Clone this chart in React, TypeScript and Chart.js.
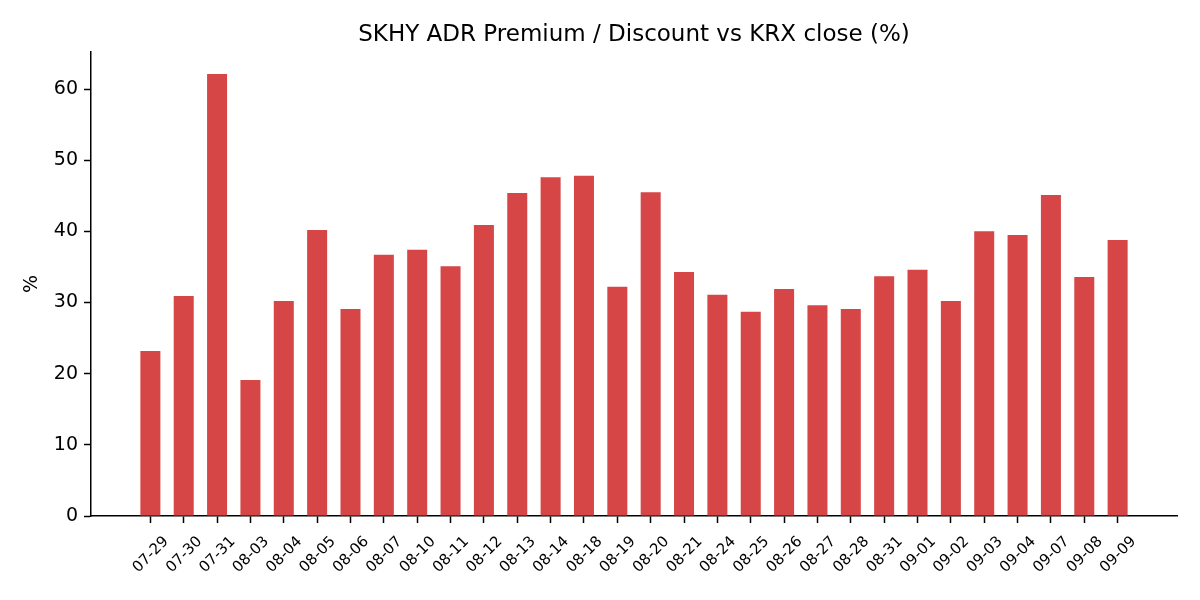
import { Chart, registerables } from 'chart.js';
import { useEffect, useRef } from 'react';

Chart.register(...registerables);

const dates = [
  '07-29', '07-30', '07-31', '08-03', '08-04', '08-05', '08-06', '08-07', '08-10', '08-11',
  '08-12', '08-13', '08-14', '08-18', '08-19', '08-20', '08-21', '08-24', '08-25', '08-26',
  '08-27', '08-28', '08-31', '09-01', '09-02', '09-03', '09-04', '09-07', '09-08', '09-09',
];
const premium = [
  23.2, 30.9, 62.1, 19.1, 30.2, 40.2, 29.1, 36.7, 37.4, 35.1,
  40.9, 45.4, 47.6, 47.8, 32.2, 45.5, 34.3, 31.1, 28.7, 31.9,
  29.6, 29.1, 33.7, 34.6, 30.2, 40.0, 39.5, 45.1, 33.6, 38.8,
];
const yTicks = [0, 10, 20, 30, 40, 50, 60];
const titleText = 'SKHY ADR Premium / Discount vs KRX close (%)';

const FONT = "'DejaVu Sans', sans-serif";
const BAR = '#d64646';

// title centred over the plot area, like matplotlib's ax.set_title
const axesTitle = {
  id: 'axesTitle',
  afterDraw: (chart: any) => {
    const { ctx, chartArea } = chart;
    ctx.save();
    ctx.font = `23px ${FONT}`;
    ctx.fillStyle = '#000';
    ctx.textAlign = 'center';
    ctx.textBaseline = 'alphabetic';
    ctx.fillText(titleText, (chartArea.left + chartArea.right) / 2, chartArea.top - 11.5);
    ctx.restore();
  },
};

const App = () => {
  const ref = useRef<HTMLCanvasElement>(null);

  useEffect(() => {
    if (ref.current == null) return () => {};
    Chart.defaults.color = '#000';
    Chart.defaults.font.family = FONT;

    const chart = new Chart(ref.current, {
      type: 'bar',
      data: {
        datasets: [
          {
            label: 'premium',
            data: premium.map((v, i) => ({ x: i, y: v })),
            backgroundColor: BAR,
            barPercentage: 0.6,
            categoryPercentage: 1,
          },
        ],
      },
      plugins: [axesTitle],
      options: {
        animation: false,
        responsive: true,
        maintainAspectRatio: false,
        layout: { padding: { left: 0, right: 23, top: 52, bottom: 0 } },
        plugins: {
          legend: { display: false },
          tooltip: { enabled: false },
          title: { display: false },
        },
        scales: {
          x: {
            type: 'linear',
            min: -1.78,
            max: dates.length - 1 + 1.78,
            offset: false,
            grid: {
              offset: false,
              drawOnChartArea: false,
              drawTicks: true,
              tickLength: 7,
              tickColor: '#000',
              tickWidth: 1.5,
            },
            border: { display: true, color: '#000', width: 1.5 },
            afterBuildTicks: (axis: any) => {
              axis.ticks = dates.map((_, i) => ({ value: i }));
            },
            afterFit: (axis: any) => {
              axis.height = 84;
            },
            ticks: {
              minRotation: 45,
              maxRotation: 45,
              autoSkip: false,
              padding: 10,
              labelOffset: 16,
              font: { family: FONT, size: 15 },
              color: '#000',
              callback: (value: any) => dates[value] ?? '',
            },
          },
          y: {
            min: 0,
            max: Math.max(...premium) * 1.05,
            grid: {
              drawOnChartArea: false,
              drawTicks: true,
              tickLength: 7,
              tickColor: '#000',
              tickWidth: 1.5,
            },
            border: { display: true, color: '#000', width: 1.5 },
            afterBuildTicks: (axis: any) => {
              axis.ticks = yTicks.map((v) => ({ value: v }));
            },
            afterFit: (axis: any) => {
              axis.width = 91;
            },
            ticks: {
              padding: 6,
              font: { family: FONT, size: 19 },
              color: '#000',
            },
            title: {
              display: true,
              text: '%',
              font: { family: FONT, size: 19 },
              color: '#000',
              padding: { top: 20.6, bottom: 0 },
            },
          },
        },
      },
    });
    return () => {
      chart.destroy();
    };
  }, []);

  return (
    <div style={{ position: 'absolute', left: 0, top: 0, width: 1200, height: 600, background: '#fff' }}>
      <canvas ref={ref} />
    </div>
  );
};

export default App;
